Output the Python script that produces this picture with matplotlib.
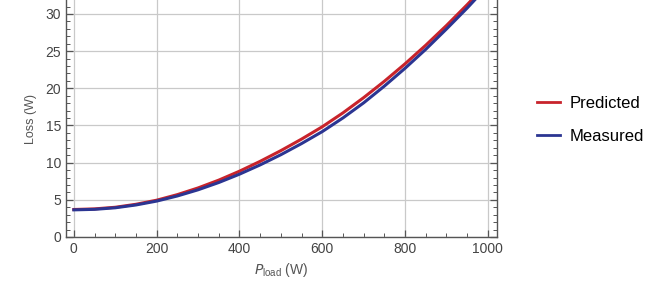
import numpy as np
import matplotlib
matplotlib.use("Agg")
import matplotlib.pyplot as plt
from matplotlib.ticker import MultipleLocator

plt.rcParams['font.family'] = ['Liberation Sans', 'DejaVu Sans']

# values
p_load = [0, 50, 100, 150, 200, 250, 300, 350, 400, 450, 500,
          550, 600, 650, 700, 750, 800, 850, 900, 950, 1000]
loss_predicted = [3.7, 3.78, 4.0, 4.4, 4.95, 5.7, 6.6, 7.65, 8.85, 10.18, 11.62,
                  13.17, 14.83, 16.7, 18.75, 20.95, 23.3, 25.8, 28.45, 31.25, 34.2]
loss_measured = [3.65, 3.72, 3.93, 4.31, 4.83, 5.52, 6.35, 7.33, 8.45, 9.7, 11.07,
                 12.57, 14.18, 16.02, 18.05, 20.3, 22.7, 25.25, 27.98, 30.8, 33.8]

red = '#c8232b'
blue = '#2b3592'
grey = '#555555'

fig = plt.figure(figsize=(6.53, 2.90), dpi=100)
ax = fig.add_axes([66 / 653, 1 - 237 / 290, (497 - 66) / 653, 237 / 290])

ax.plot(p_load, loss_predicted, color=red, lw=2.2, label='Predicted')
ax.plot(p_load, loss_measured, color=blue, lw=2.2, label='Measured')

ax.set_xlim(-19, 1022)
ax.set_ylim(0, 31.88)

ax.xaxis.set_major_locator(MultipleLocator(200))
ax.xaxis.set_minor_locator(MultipleLocator(50))
ax.yaxis.set_major_locator(MultipleLocator(5))
ax.yaxis.set_minor_locator(MultipleLocator(1))

ax.grid(True, which='major', color='#c9c9c9', lw=0.9)
ax.set_axisbelow(True)

for s in ['left', 'bottom', 'right']:
    ax.spines[s].set_color(grey)
    ax.spines[s].set_linewidth(1.0)
ax.spines['top'].set_visible(False)

ax.tick_params(which='both', direction='in', colors=grey, labelcolor='#444444',
               labelsize=10, left=True, right=True, bottom=True, top=False)
ax.tick_params(which='major', length=5, width=0.9)
ax.tick_params(which='minor', length=3, width=0.7)
ax.tick_params(axis='y', which='both', labelright=False)

ax.set_ylabel('Loss (W)', fontsize=9, color='#555555', labelpad=6)
ax.set_xlabel(r'$P_{\mathregular{load}}$ (W)', fontsize=10, color='#555555', labelpad=4)

leg = fig.legend(loc='center left', bbox_to_anchor=(0.799, 0.586), frameon=False,
                 fontsize=12, handlelength=1.38, handletextpad=0.6, labelspacing=1.05)
for line in leg.get_lines():
    line.set_linewidth(2.0)

fig.savefig('out.png', dpi=100)
